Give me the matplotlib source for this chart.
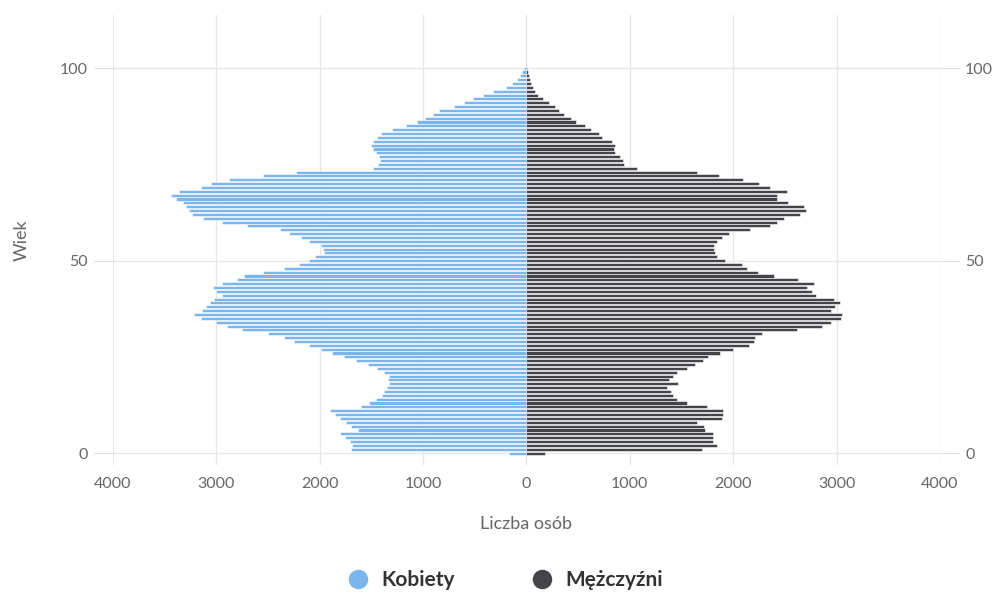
import matplotlib
matplotlib.use("Agg")
import matplotlib.pyplot as plt
from matplotlib.lines import Line2D
import numpy as np

plt.rcParams['font.family'] = ['Lato', 'DejaVu Sans']

ages = list(range(0, 101))

women = [170, 1700, 1690, 1710, 1760, 1800, 1630, 1700, 1750, 1800,
         1850, 1900, 1600, 1520, 1460, 1400, 1380, 1350, 1330, 1340,
         1330, 1380, 1450, 1530, 1650, 1770, 1880, 1990, 2100, 2250,
         2350, 2500, 2750, 2900, 3000, 3150, 3220, 3140, 3100, 3060,
         3020, 2950, 3000, 3030, 2950, 2800, 2730, 2550, 2350, 2200,
         2100, 2050, 1960, 1970, 1990, 2100, 2180, 2300, 2380, 2700,
         2950, 3130, 3240, 3260, 3290, 3320, 3390, 3440, 3360, 3150,
         3050, 2880, 2550, 2230, 1480, 1440, 1420, 1430, 1460, 1480,
         1500, 1480, 1450, 1410, 1300, 1170, 1060, 980, 900, 850,
         700, 600, 520, 420, 320, 200, 140, 90, 60, 40, 20]

men = [180, 1700, 1845, 1800, 1800, 1800, 1730, 1720, 1650, 1890,
       1900, 1900, 1750, 1550, 1460, 1420, 1400, 1360, 1470, 1380,
       1420, 1460, 1550, 1630, 1710, 1760, 1870, 2000, 2150, 2200,
       2210, 2280, 2620, 2860, 2950, 3040, 3050, 2950, 2980, 3030,
       2970, 2800, 2760, 2710, 2780, 2630, 2390, 2240, 2130, 2080,
       1920, 1840, 1820, 1810, 1810, 1840, 1890, 1960, 2160, 2360,
       2420, 2490, 2650, 2700, 2680, 2530, 2420, 2420, 2520, 2360,
       2250, 2090, 1860, 1650, 1070, 940, 930, 900, 860, 850,
       860, 830, 730, 700, 620, 570, 480, 430, 360, 310,
       280, 220, 160, 110, 80, 60, 40, 30, 20, 10, 5]

series_names = ['Kobiety', 'Mężczyźni']
series_colors = ['#7cb5ec', '#434348']
x_ticks = [-4000, -3000, -2000, -1000, 0, 1000, 2000, 3000, 4000]
y_ticks = [0, 50, 100]

fig = plt.figure(figsize=(10.06, 5.96), dpi=100)
ax = fig.add_axes([0.1123, 0.2198, 0.8221, 0.755])

ax.barh(ages, [-w for w in women], height=0.8, color=series_colors[0],
        edgecolor='white', linewidth=0.4, zorder=3)
ax.barh(ages, men, height=0.8, color=series_colors[1],
        edgecolor='white', linewidth=0.4, zorder=3)

ax.set_xlim(-4000, 4000)
ax.set_ylim(-3.1, 113.8)
ax.set_xticks(x_ticks)
ax.set_xticklabels([str(abs(t)) for t in x_ticks])
ax.set_yticks(y_ticks)
ax.tick_params(axis='x', length=0, pad=9, labelsize=11.5, colors='#666666')
ax.tick_params(axis='y', length=14, width=0.8, color='#dcdcdc', pad=4,
               labelsize=11.5, labelcolor='#666666', left=True, right=True,
               labelleft=True, labelright=True)
ax.grid(True, color='#e6e6e6', linewidth=0.9, zorder=0)
for s in ax.spines.values():
    s.set_visible(False)

ax.set_xlabel('Liczba osób', fontsize=13, color='#666666', labelpad=18)
ax.set_ylabel('Wiek', fontsize=13, color='#666666', labelpad=22)

handles = [Line2D([0], [0], marker='o', linestyle='none', markersize=13,
                  markerfacecolor=c, markeredgecolor=c) for c in series_colors]
leg = fig.legend(handles, series_names, loc='center', bbox_to_anchor=(0.497, 0.027),
                 ncol=2, frameon=False, fontsize=15, handletextpad=0.1,
                 columnspacing=3.2)
for t in leg.get_texts():
    t.set_color('#333333')
    t.set_fontweight('bold')

fig.savefig('out.png', dpi=100)
